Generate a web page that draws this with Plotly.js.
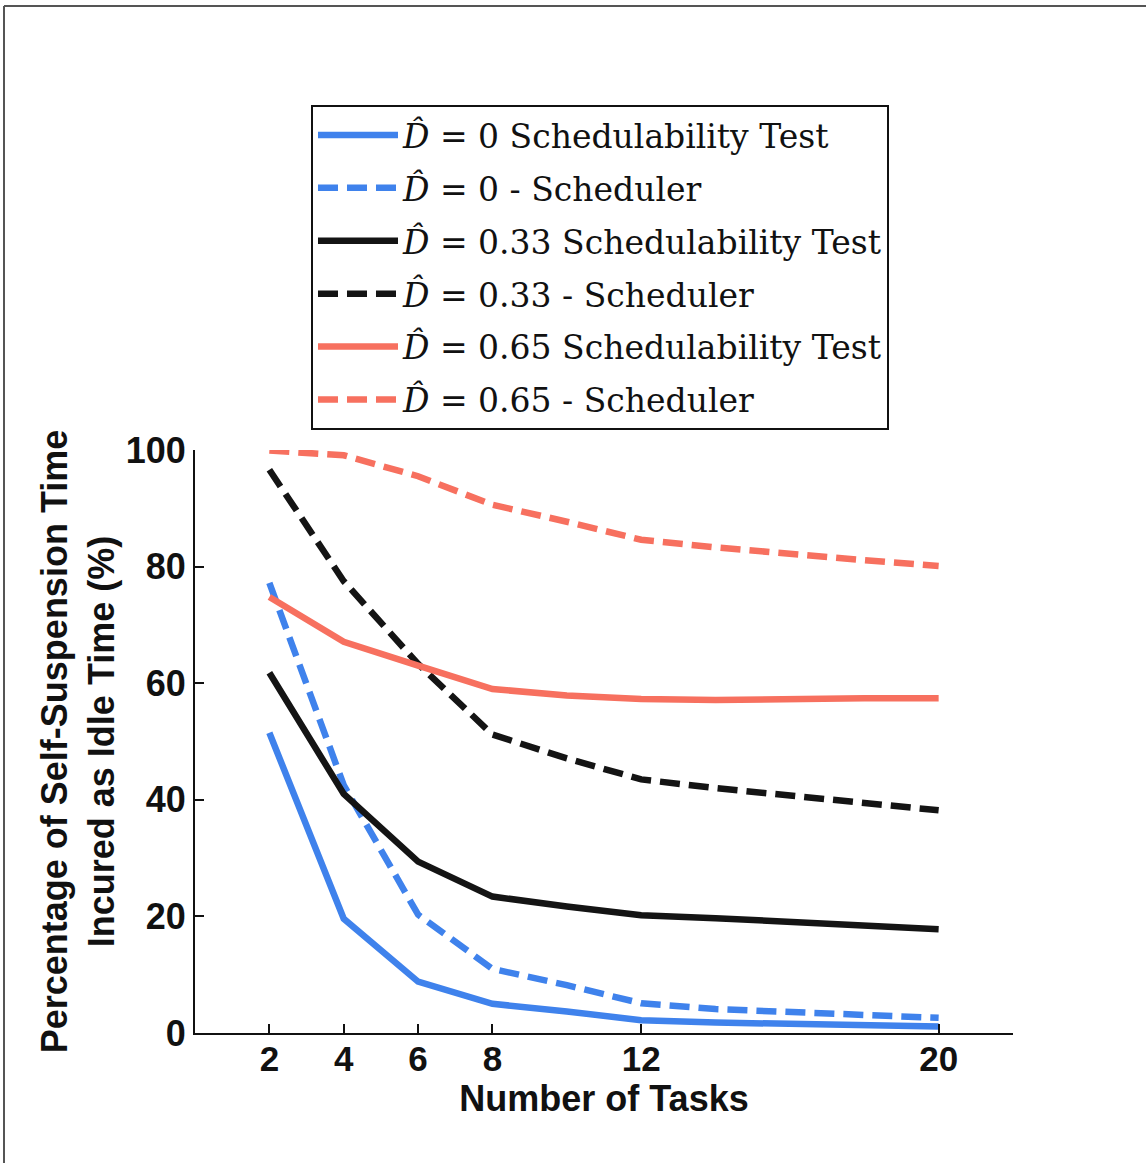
<!DOCTYPE html>
<html>
<head>
<meta charset="utf-8">
<script src="https://cdn.plot.ly/plotly-3.0.1.min.js"></script>
<style>html,body{margin:0;padding:0;background:#fff;}#chart{width:1146px;height:1163px;}</style>
</head>
<body>
<div id="chart"></div>
<script>
// Data
var numTasks = [2, 4, 6, 8, 10, 12, 14, 16, 18, 20];
var d0Test   = [51.5, 19.6, 8.8, 5.0, 3.7, 2.2, 1.8, 1.6, 1.3, 1.1];
var d0Sched  = [77.2, 42.5, 20.3, 11.0, 8.2, 5.1, 4.1, 3.7, 3.1, 2.6];
var d33Test  = [61.8, 41.0, 29.4, 23.4, 21.7, 20.2, 19.7, 19.1, 18.3, 17.8];
var d33Sched = [96.6, 77.5, 63.3, 51.2, 47.1, 43.5, 42.0, 40.8, 39.4, 38.2];
var d65Test  = [74.8, 67.1, 63.0, 59.0, 57.9, 57.3, 57.1, 57.3, 57.4, 57.4];
var d65Sched = [99.9, 99.1, 95.5, 90.6, 87.7, 84.6, 83.3, 82.1, 81.1, 80.1];
var xTicks = [2, 4, 6, 8, 12, 20];
var yTicks = [0, 20, 40, 60, 80, 100];
var seriesNames = [
  "<i>D\u0302</i> = 0 Schedulability Test",
  "<i>D\u0302</i> = 0 - Scheduler",
  "<i>D\u0302</i> = 0.33 Schedulability Test",
  "<i>D\u0302</i> = 0.33 - Scheduler",
  "<i>D\u0302</i> = 0.65 Schedulability Test",
  "<i>D\u0302</i> = 0.65 - Scheduler"
];

var BLUE = "#3f82ec", BLACK = "#141414", RED = "#f7705f";
var DASH = "20px,9px";

function tr(y, name, color, dash, g) {
  return {
    x: numTasks, y: y, name: name, type: "scatter", mode: "lines",
    legendgroup: g,
    line: {color: color, width: 6.5, dash: dash}
  };
}

var data = [
  tr(d0Test,   seriesNames[0], BLUE,  "solid", "a"),
  tr(d0Sched,  seriesNames[1], BLUE,  DASH,    "b"),
  tr(d33Test,  seriesNames[2], BLACK, "solid", "c"),
  tr(d33Sched, seriesNames[3], BLACK, DASH,    "d"),
  tr(d65Test,  seriesNames[4], RED,   "solid", "e"),
  tr(d65Sched, seriesNames[5], RED,   DASH,    "f")
];

var SANS = "Liberation Sans, Arial, sans-serif";
var layout = {
  width: 1146, height: 1163,
  margin: {l: 195, r: 133, t: 450, b: 130},
  paper_bgcolor: "#fff", plot_bgcolor: "#fff",
  showlegend: true,
  legend: {
    x: 0.1418, y: 1.5918, xanchor: "left", yanchor: "top",
    bgcolor: "#fff", bordercolor: "#111", borderwidth: 2,
    font: {family: "DejaVu Serif, serif", size: 33, color: "#111"},
    traceorder: "grouped", tracegroupgap: 7,
    itemwidth: 80
  },
  xaxis: {
    range: [0, 22], tickvals: xTicks, ticktext: xTicks.map(String),
    ticks: "inside", ticklen: 9, tickwidth: 2, tickcolor: "#111",
    ticklabelstandoff: -6,
    showline: true, linecolor: "#111", linewidth: 2,
    showgrid: false, zeroline: false,
    tickfont: {family: SANS, size: 35, color: "#111", weight: "bold"},
    title: {text: "<b>Number of Tasks</b>", font: {family: SANS, size: 36, color: "#111"}, standoff: 4}
  },
  yaxis: {
    range: [0, 100], tickvals: yTicks,
    ticks: "inside", ticklen: 9, tickwidth: 2, tickcolor: "#111",
    showline: true, linecolor: "#111", linewidth: 2,
    showgrid: false, zeroline: false,
    tickfont: {family: SANS, size: 36, color: "#111", weight: "bold"},
    title: {text: "<b>Percentage of Self-Suspension Time<br>Incured as Idle Time (%)</b>", font: {family: SANS, size: 36, color: "#111"}, standoff: 0}
  },
  shapes: [
    {type: "line", xref: "paper", yref: "paper", x0: -0.2335, x1: 1.17, y0: 1.7616, y1: 1.7616, line: {color: "#555", width: 2}},
    {type: "line", xref: "paper", yref: "paper", x0: -0.2335, x1: -0.2335, y0: 1.7616, y1: -0.23, line: {color: "#555", width: 2}}
  ]
};

Plotly.newPlot("chart", data, layout, {displayModeBar: false, staticPlot: true});
</script>
</body>
</html>
